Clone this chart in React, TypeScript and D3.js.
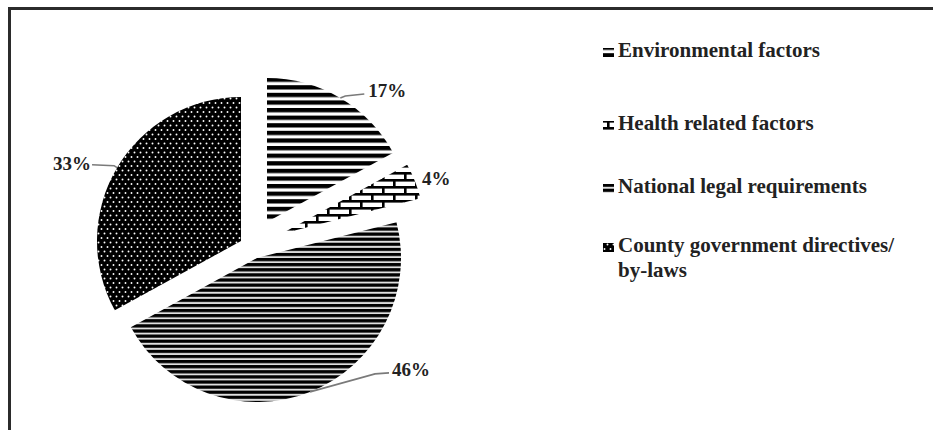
import React from "react";
import * as d3 from "d3";

// ---- data ----
const categories = [
  "Environmental factors",
  "Health related factors",
  "National legal requirements",
  "County government directives/ by-laws",
];
const values = [17, 4, 46, 33];
const percentLabels = ["17%", "4%", "46%", "33%"];
const legendLines = [
  ["Environmental factors"],
  ["Health related factors"],
  ["National legal requirements"],
  ["County government directives/", "by-laws"],
];

// ---- style / layout ----
const W = 933;
const H = 430;
const CX = 252;
const CY = 240;
const R = 144;
const patternIds = ["pEnv", "pHealth", "pNat", "pCounty"];
const explode: [number, number][] = [
  [15, -18],
  [29, -6],
  [5, 18],
  [-11, 1],
];
// leader elbow/end offsets relative to slice outer mid point, and text offset
const leaders: { pts: [number, number][]; text: [number, number]; anchor: string }[] = [
  { pts: [[5, -2], [24, -4]], text: [28, -1], anchor: "start" },
  { pts: [], text: [7, 4], anchor: "start" },
  { pts: [[65, -18], [79, -19]], text: [82, -16], anchor: "start" },
  { pts: [[-3, -2], [-25, -3]], text: [-26, 2], anchor: "end" },
];
const legendX = 603;
const legendBaselines = [57, 130, 193, 252];
const FONT = "'Liberation Serif', 'Times New Roman', serif";

export default function App() {
  const pie = d3
    .pie<number>()
    .sort(null)
    .startAngle(0)
    .endAngle(2 * Math.PI)
    .value((d) => d);
  const arcs = pie(values);
  const arcGen = d3.arc<d3.PieArcDatum<number>>().innerRadius(0).outerRadius(R);

  return (
    <svg
      width={W}
      height={H}
      style={{ position: "absolute", left: 0, top: 0, display: "block", background: "#fff" }}
    >
      <defs>
        <pattern id="pEnv" patternUnits="userSpaceOnUse" width={20} height={7.6}>
          <rect width={20} height={7.6} fill="#fff" />
          <rect y={0} width={20} height={4.3} fill="#000" />
        </pattern>
        <pattern id="pHealth" patternUnits="userSpaceOnUse" width={22} height={14} patternTransform="translate(2,1)">
          <rect width={22} height={14} fill="#fff" />
          <rect x={0} y={0} width={22} height={2.6} fill="#000" />
          <rect x={0} y={7} width={22} height={2.6} fill="#000" />
          <rect x={0} y={0} width={2.6} height={7} fill="#000" />
          <rect x={11} y={7} width={2.6} height={7} fill="#000" />
        </pattern>
        <pattern id="pNat" patternUnits="userSpaceOnUse" width={20} height={5.1}>
          <rect width={20} height={5.1} fill="#e0e0e0" />
          <rect y={0} width={20} height={3.2} fill="#000" />
        </pattern>
        <pattern id="pCounty" patternUnits="userSpaceOnUse" width={6} height={9}>
          <rect width={6} height={9} fill="#000" />
          <circle cx={1.5} cy={1.5} r={0.95} fill="#fff" />
          <circle cx={4.5} cy={6} r={0.95} fill="#fff" />
        </pattern>
      </defs>

      {/* frame (top and left only) */}
      <line x1={8} y1={8.5} x2={W} y2={8.5} stroke="#2b2b2b" strokeWidth={3} />
      <line x1={9.5} y1={7} x2={9.5} y2={H} stroke="#2b2b2b" strokeWidth={3} />

      {/* slices */}
      {arcs.map((a, i) => (
        <path
          key={i}
          d={arcGen(a) || ""}
          transform={`translate(${CX + explode[i][0]},${CY + explode[i][1]})`}
          fill={`url(#${patternIds[i]})`}
        />
      ))}

      {/* labels and leaders */}
      {arcs.map((a, i) => {
        const mid = (a.startAngle + a.endAngle) / 2;
        const ox = CX + explode[i][0] + R * Math.sin(mid);
        const oy = CY + explode[i][1] - R * Math.cos(mid);
        const L = leaders[i];
        const pts: [number, number][] = [[ox, oy], ...L.pts.map(([dx, dy]) => [ox + dx, oy + dy] as [number, number])];
        const line = d3.line();
        return (
          <g key={i}>
            {L.pts.length > 0 && (
              <path d={line(pts) || ""} fill="none" stroke="#7a7a7a" strokeWidth={1.6} />
            )}
            <text
              x={ox + L.text[0]}
              y={oy + L.text[1]}
              textAnchor={L.anchor}
              fontFamily={FONT}
              fontWeight="bold"
              fontSize={19}
              fill="#222"
            >
              {percentLabels[i]}
            </text>
          </g>
        );
      })}

      {/* legend */}
      {categories.map((c, i) => (
        <g key={c}>
          <rect
            x={legendX}
            y={legendBaselines[i] - 9}
            width={11}
            height={9}
            fill={`url(#${patternIds[i]})`}
          />
          <text fontFamily={FONT} fontWeight="bold" fontSize={21} fill="#222">
            {legendLines[i].map((ln, j) => (
              <tspan key={j} x={legendX + 15} y={legendBaselines[i] + j * 25}>
                {ln}
              </tspan>
            ))}
          </text>
        </g>
      ))}
    </svg>
  );
}
